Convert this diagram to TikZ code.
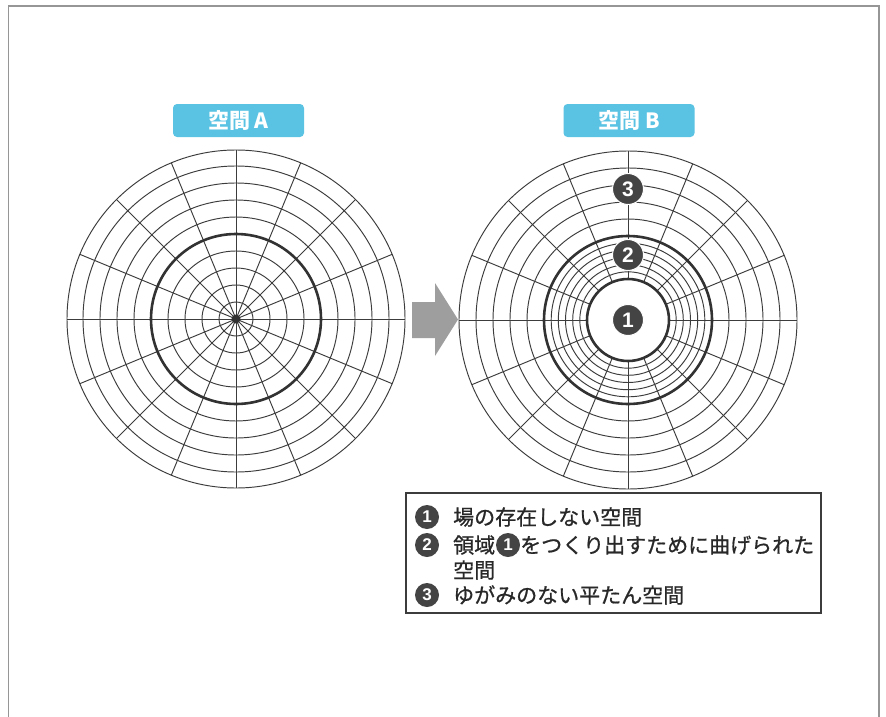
\documentclass[tikz,border=0pt]{standalone}
\usepackage{fontspec}
\setmainfont{Liberation Sans}
\newfontfamily\jp[FakeBold=0.8]{Noto Sans CJK JP}
\newfontfamily\jpt{Noto Sans CJK JP}
\definecolor{gridc}{RGB}{60,60,60}
\definecolor{thickc}{RGB}{50,50,50}
\definecolor{titlec}{RGB}{90,195,228}
\definecolor{mkc}{RGB}{68,68,68}
\definecolor{arrc}{RGB}{158,158,158}
\definecolor{framec}{RGB}{150,150,150}
\definecolor{textc}{RGB}{40,40,40}
\begin{document}
\begin{tikzpicture}[x=1pt,y=-1pt,
  grid/.style={draw=gridc,line width=0.95pt},
  thickring/.style={draw=thickc,line width=2.6pt},
  titlebox/.style={fill=titlec,rounded corners=4pt,minimum width=131pt,minimum height=33pt,inner sep=0pt,text=white,font=\jpt\bfseries\fontsize{21}{24}\selectfont},
  mkbig/.style={circle,fill=mkc,draw=white,line width=1pt,minimum size=31pt,inner sep=0pt,text=white,font=\bfseries\fontsize{21}{21}\selectfont},
  mksmall/.style={circle,fill=mkc,minimum size=24pt,inner sep=0pt,text=white,font=\bfseries\fontsize{17}{17}\selectfont},
  lbl/.style={anchor=west,inner sep=0pt,text=textc,font=\jp\fontsize{21}{24}\selectfont}
]
\useasboundingbox (0,0) rectangle (886,717);
\fill[white] (0,0) rectangle (886,717);
% frame
\draw[framec,line width=1.5pt] (8.5,717) -- (8.5,6) -- (879,6) -- (879,717);

% ---- Space A ----
\coordinate (cA) at (236,319);
\foreach \r in {17,34,51,68,102,119,136,153,169}
  \draw[grid] (cA) circle[radius=\r pt];
\foreach \a in {0,22.5,...,337.5}
  \draw[grid] (cA) -- ++(\a:169pt);
\draw[thickring] (cA) circle[radius=85pt];
\fill[thickc] (cA) circle[radius=4.5pt];

% ---- Space B ----
\coordinate (cB) at (628,320);
\foreach \r in {48.2,55.3,62.5,69.7,76.8,101,118,135,152,169}
  \draw[grid] (cB) circle[radius=\r pt];
\foreach \a in {0,22.5,...,337.5}
  \draw[grid] ([shift={(\a:41pt)}]cB) -- ([shift={(\a:169pt)}]cB);
\draw[thickring] (cB) circle[radius=41pt];
\draw[thickring] (cB) circle[radius=84pt];

\node[mkbig] (m1) at (628,320) {1};
\node[mkbig] (m2) at (628,255) {2};
\node[mkbig] (m3) at (628,189) {3};

% ---- titles ----
\node[titlebox] (tA) at (238.5,120.5) {空間 A};
\node[titlebox] (tB) at (629,120.5) {空間 B};

% ---- arrow ----
\fill[arrc] (412,302) -- (435,302) -- (435,283) -- (458,319.5) -- (435,356) -- (435,338) -- (412,338) -- cycle;

% ---- legend ----
\node[draw=gridc,line width=1.2pt,minimum width=415pt,minimum height=120pt,inner sep=0pt] (legend) at (613.5,553) {};
\node[mksmall] (l1) at (427,517) {1};
\node[mksmall] (l2) at (427,545) {2};
\node[mksmall] (l3) at (427,595) {3};
\node[lbl] (t1) at (453,517) {場の存在しない空間};
\node[lbl] (t2a) at (453,545) {領域};
\node[mksmall] (l2b) at (508,545) {1};
\node[lbl] (t2b) at (520,545) {をつくり出すために曲げられた};
\node[lbl] (t2c) at (453,570) {空間};
\node[lbl] (t3) at (453,595) {ゆがみのない平たん空間};
\end{tikzpicture}
\end{document}
